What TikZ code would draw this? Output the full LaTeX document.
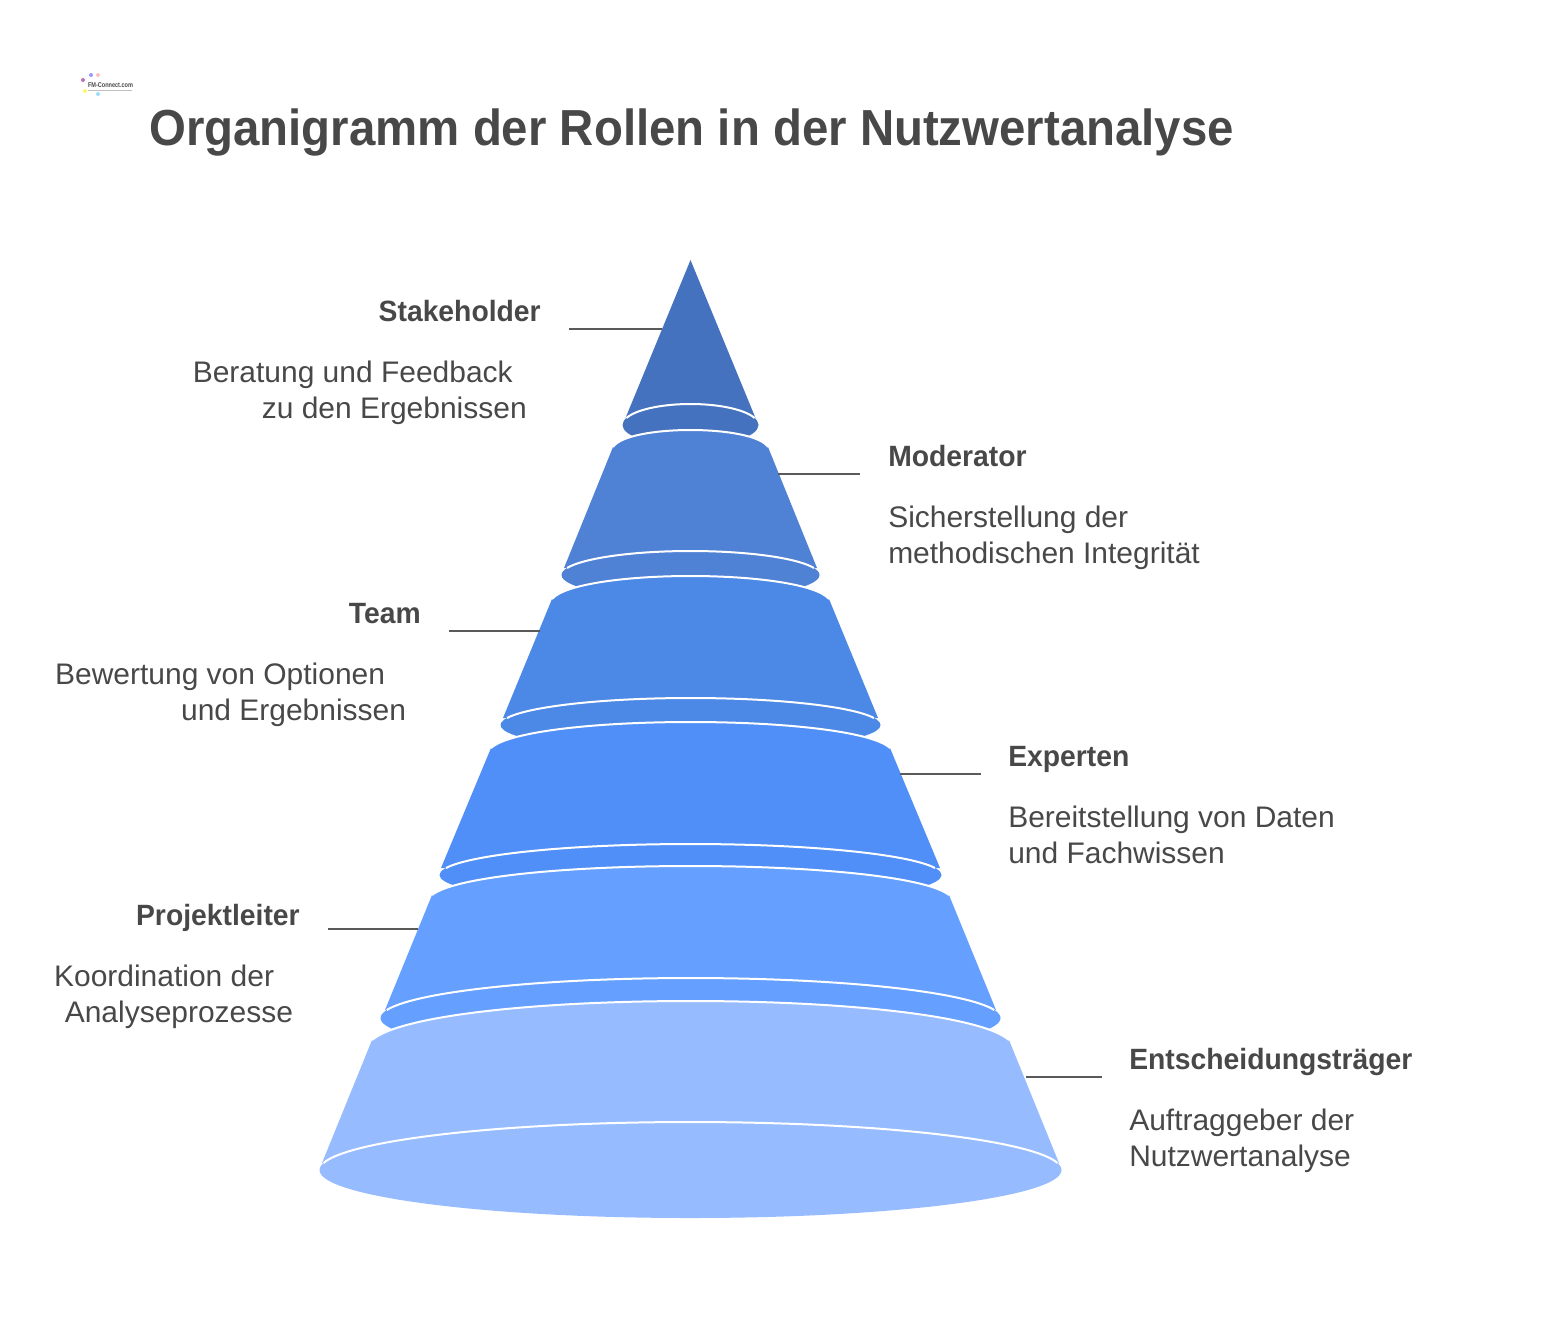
\documentclass[tikz,border=0pt]{standalone}
\usepackage{fontspec}
\setmainfont{Liberation Sans}
\newfontfamily\titlefont[FakeStretch=.935]{Liberation Sans}
\newfontfamily\headfont[FakeStretch=.965]{Liberation Sans}
\newfontfamily\bodyfont[FakeStretch=1.008]{Liberation Sans}
\newfontfamily\logofont[FakeStretch=.8]{Liberation Sans}
\usetikzlibrary{positioning}
\definecolor{textG}{HTML}{484848}
\definecolor{colA}{HTML}{4472BE}
\definecolor{colB}{HTML}{4F81D4}
\definecolor{colC}{HTML}{4C88E6}
\definecolor{colD}{HTML}{4F8FF7}
\definecolor{colE}{HTML}{659FFF}
\definecolor{colF}{HTML}{96BCFF}
\newcommand{\cx}{690.5}
% rx, y centre, ry, y foot
\newcommand{\DrawRim}[4]{
	\pgfmathsetmacro{\rimA}{asin((#2-#4)/#3)}
	\draw[rim] plot[domain=\rimA:180-\rimA, samples=70] ({\cx+#1*cos(\x)},{#2-#3*sin(\x)});
}
% colour, half width top, y top corner, y crest, half width foot, y foot, rx, y centre, ry
\newcommand{\DrawLayer}[9]{
	\fill[#1] (\cx-#2,#3) .. controls ({\cx-.91*#2},{#3-.64*(#3-#4)}) and ({\cx-.47*#2},#4) .. (\cx,#4)
		.. controls ({\cx+.47*#2},#4) and ({\cx+.91*#2},{#3-.64*(#3-#4)}) .. (\cx+#2,#3)
		-- (\cx+#5,#6) -- (\cx-#5,#6) -- cycle;
	\fill[#1] (\cx,#8) ellipse [x radius=#7, y radius=#9];
	\draw[rim] (\cx-#2,#3) .. controls ({\cx-.91*#2},{#3-.64*(#3-#4)}) and ({\cx-.47*#2},#4) .. (\cx,#4)
		.. controls ({\cx+.47*#2},#4) and ({\cx+.91*#2},{#3-.64*(#3-#4)}) .. (\cx+#2,#3);
	\DrawRim{#7}{#8}{#9}{#6}
}
\begin{document}
\begin{tikzpicture}[x=0.75pt,y=-0.75pt]
	\tikzstyle{rim} = [draw=white, line width=1.5pt]
	\tikzstyle{lead} = [draw=textG!90, line width=1.2pt]
	\tikzstyle{head} = [text=textG, inner sep=0pt, font=\fontsize{22}{27}\headfont\bfseries, text height=16pt, text depth=5pt]
	\tikzstyle{info} = [text=textG, inner sep=0pt, font=\fontsize{22.3}{27}\bodyfont]
	\useasboundingbox (0,0) rectangle (1558,1317);

	% logo
	\foreach \dx/\dy/\dc in {-10/-5/violet!55, -2/-10/blue!40, 5/-10/red!25, -8/6/yellow!60, 5/9/cyan!40}
		\fill[\dc] (93+\dx,85+\dy) circle (2);
	\node(logo)[text=textG, inner sep=0pt, font=\fontsize{5.2}{6}\logofont\bfseries] at (110.5,85.5){FM-Connect.com};
	\draw[gray!50, line width=.6pt] (88,90.5) -- (132,90.5);

	\node(title)[text=textG, inner sep=0pt, anchor=base west, font=\fontsize{38}{44}\titlefont\bfseries] at (149,145){Organigramm der Rollen in der Nutzwertanalyse};

	% pyramid, top layer first
	\fill[colA] (\cx,260) -- (\cx+65,418) -- (\cx-65,418) -- cycle;
	\fill[colA] (\cx,425) ellipse [x radius=68, y radius=21];
	\DrawRim{68}{425}{21}{418}
	\DrawLayer{colB}{77.5}{447}{430}{126.5}{568}{129}{575}{24}
	\DrawLayer{colC}{138.5}{599}{576}{187.5}{718}{190}{725}{27}
	\DrawLayer{colD}{199.5}{748}{722}{249.5}{868}{251}{875}{31}
	\DrawLayer{colE}{258.5}{895}{866}{305.5}{1010}{310}{1018}{40}
	\DrawLayer{colF}{318.5}{1040}{1001}{368.5}{1163}{371}{1170}{48}

	% labels
	\node(stakeholder)[head, anchor=east] at (541,314.5){Stakeholder};
	\node(stakeholderT)[info, align=right, below left=23.7pt and 10.5pt of stakeholder.south east]{Beratung und Feedback\hspace*{10.5pt}\\zu den Ergebnissen};
	\coordinate(stakeholderA) at (569,329);
	\coordinate(stakeholderB) at (662,329);
	\draw[lead] (stakeholderA) -- (stakeholderB);

	\node(moderator)[head, anchor=west] at (888,459.5){Moderator};
	\node(moderatorT)[info, align=left, below right=23.7pt and 0pt of moderator.south west]{Sicherstellung der\\methodischen Integrität};
	\coordinate(moderatorA) at (778,474);
	\coordinate(moderatorB) at (860,474);
	\draw[lead] (moderatorA) -- (moderatorB);

	\node(team)[head, anchor=east] at (421,616.5){Team};
	\node(teamT)[info, align=right, below left=23.7pt and 11pt of team.south east]{Bewertung von Optionen\hspace*{15.75pt}\\und Ergebnissen};
	\coordinate(teamA) at (449,631);
	\coordinate(teamB) at (540,631);
	\draw[lead] (teamA) -- (teamB);

	\node(experten)[head, anchor=west] at (1008,759.5){Experten};
	\node(expertenT)[info, align=left, below right=23.7pt and 0pt of experten.south west]{Bereitstellung von Daten\\und Fachwissen};
	\coordinate(expertenA) at (900,774);
	\coordinate(expertenB) at (981,774);
	\draw[lead] (expertenA) -- (expertenB);

	\node(projekt)[head, anchor=east] at (300,918.5){Projektleiter};
	\node(projektT)[info, align=right, below left=23.7pt and 5pt of projekt.south east]{Koordination der\hspace*{14.25pt}\\Analyseprozesse};
	\coordinate(projektA) at (328,929);
	\coordinate(projektB) at (418,929);
	\draw[lead] (projektA) -- (projektB);

	\node(entscheider)[head, anchor=west] at (1129,1062.5){Entscheidungsträger};
	\node(entscheiderT)[info, align=left, below right=23.7pt and 0pt of entscheider.south west]{Auftraggeber der\\Nutzwertanalyse};
	\coordinate(entscheiderA) at (1026,1077);
	\coordinate(entscheiderB) at (1102,1077);
	\draw[lead] (entscheiderA) -- (entscheiderB);
\end{tikzpicture}
\end{document}
